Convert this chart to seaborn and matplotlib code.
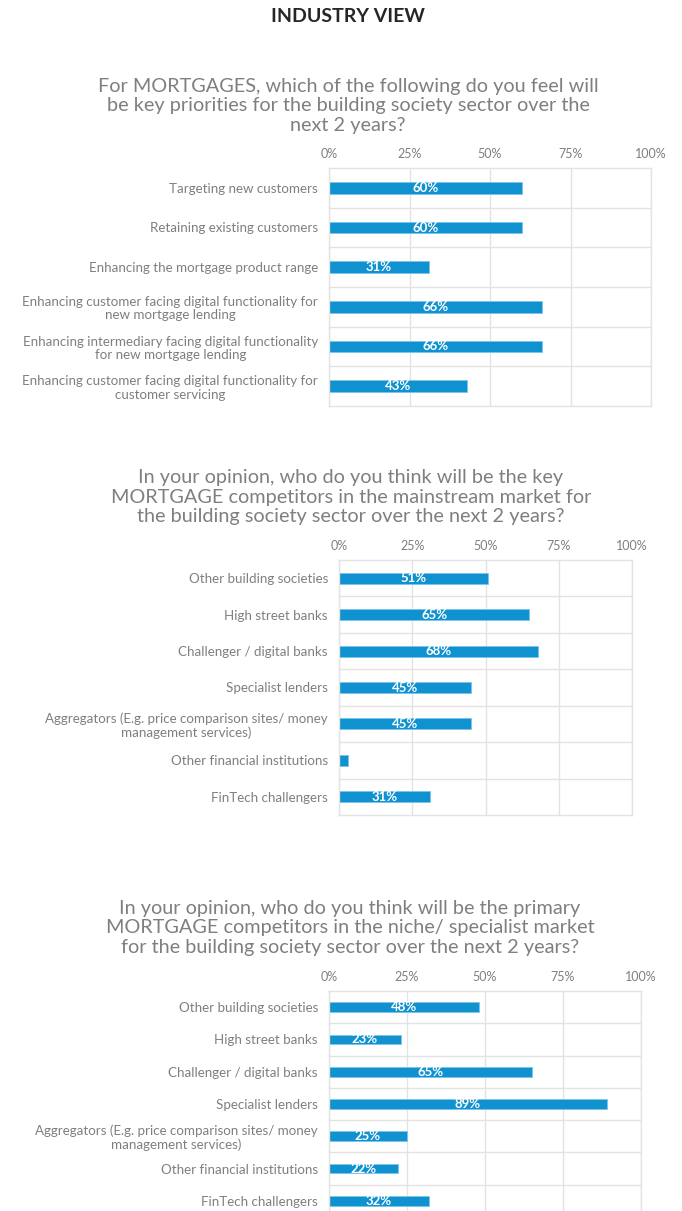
import matplotlib
matplotlib.use("Agg")
import matplotlib.pyplot as plt
import seaborn as sns

sns.set_theme(style="white")
plt.rcParams['font.family'] = ['Lato', 'DejaVu Sans']

# chart 1 - priorities
priorities = [
    "Targeting new customers",
    "Retaining existing customers",
    "Enhancing the mortgage product range",
    "Enhancing customer facing digital functionality for\nnew mortgage lending",
    "Enhancing intermediary facing digital functionality\nfor new mortgage lending",
    "Enhancing customer facing digital functionality for\ncustomer servicing",
]
priority_pct = [60, 60, 31, 66, 66, 43]

# chart 2 - mainstream competitors
mainstream = [
    "Other building societies",
    "High street banks",
    "Challenger / digital banks",
    "Specialist lenders",
    "Aggregators (E.g. price comparison sites/ money\nmanagement services)",
    "Other financial institutions",
    "FinTech challengers",
]
mainstream_pct = [51, 65, 68, 45, 45, 3, 31]

# chart 3 - niche competitors
niche = list(mainstream)
niche_pct = [48, 23, 65, 89, 25, 22, 32]

q1 = "For MORTGAGES, which of the following do you feel will\nbe key priorities for the building society sector over the\nnext 2 years?"
q2 = "In your opinion, who do you think will be the key\nMORTGAGE competitors in the mainstream market for\nthe building society sector over the next 2 years?"
q3 = "In your opinion, who do you think will be the primary\nMORTGAGE competitors in the niche/ specialist market\nfor the building society sector over the next 2 years?"

ticks = [0, 25, 50, 75, 100]
tick_labels = ["0%", "25%", "50%", "75%", "100%"]

BLUE = "#1192d0"
GRID = "#e3e3e3"
GREY = "#7f7f7f"

W, H = 682, 1211
fig = plt.figure(figsize=(W / 100, H / 100), dpi=100)


def px_axes(x0, x1, y0, y1):
    return fig.add_axes([x0 / W, 1 - y1 / H, (x1 - x0) / W, (y1 - y0) / H])


def bar_chart(ax, labels, vals, label_size=9.6):
    sns.barplot(x=vals, y=labels, ax=ax, color=BLUE, orient="h", width=0.3,
                saturation=1, edgecolor="#7cc4ea", linewidth=0.6)
    n = len(labels)
    ax.set_xlim(0, 100)
    ax.set_ylim(n - 0.5, -0.5)
    ax.set_xticks(ticks)
    ax.set_xticklabels(tick_labels, fontsize=9, color=GREY)
    ax.xaxis.tick_top()
    ax.set_yticks(range(n))
    ax.set_yticklabels(labels, fontsize=label_size, color=GREY,
                       multialignment="center", linespacing=1.15)
    ax.set_yticks([i + 0.5 for i in range(n - 1)], minor=True)
    ax.tick_params(axis="both", which="both", length=0)
    ax.tick_params(axis="x", pad=6)
    ax.tick_params(axis="y", pad=8)
    ax.grid(True, axis="x", color=GRID, linewidth=1)
    ax.grid(True, axis="y", which="minor", color=GRID, linewidth=1)
    ax.set_axisbelow(True)
    for s in ax.spines.values():
        s.set_color(GRID)
        s.set_linewidth(1)
    ax.set_xlabel("")
    ax.set_ylabel("")
    for i, v in enumerate(vals):
        if v >= 10:
            ax.text(v / 2, i, f"{v}%", ha="center", va="center",
                    color="white", fontsize=9.5, fontweight="bold")


fig.text(348 / W, 1 - 17 / H, "INDUSTRY VIEW", ha="center", va="center",
         fontsize=14, fontweight="bold", color="#262626")

fig.text(348 / W, 1 - 106 / H, q1, ha="center", va="center", fontsize=14.3,
         color=GREY, linespacing=1.2)
ax1 = px_axes(329, 651, 168, 406)
bar_chart(ax1, priorities, priority_pct)

fig.text(351 / W, 1 - 497 / H, q2, ha="center", va="center", fontsize=14.3,
         color=GREY, linespacing=1.2)
ax2 = px_axes(339, 632, 560, 815)
bar_chart(ax2, mainstream, mainstream_pct)

fig.text(350 / W, 1 - 928 / H, q3, ha="center", va="center", fontsize=14.3,
         color=GREY, linespacing=1.2)
ax3 = px_axes(329, 641, 991, 1217)
bar_chart(ax3, niche, niche_pct)

fig.savefig("out.png", dpi=100)
